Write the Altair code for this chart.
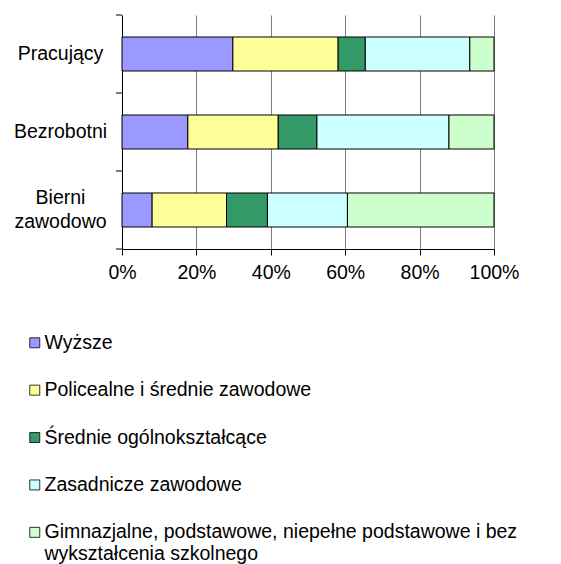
import altair as alt
import pandas as pd

groups = ["Pracujący", "Bezrobotni", "Bierni zawodowo"]
levels = [
    "Wyższe",
    "Policealne i średnie zawodowe",
    "Średnie ogólnokształcące",
    "Zasadnicze zawodowe",
    "Gimnazjalne, podstawowe, niepełne podstawowe i bez wykształcenia szkolnego",
]
colors = ["#9999FF", "#FFFF99", "#339966", "#CCFFFF", "#CCFFCC"]

wyzsze = [29.8, 17.7, 8.1]
policealne = [28.3, 24.3, 20.0]
srednie = [7.3, 10.4, 11.0]
zasadnicze = [28.1, 35.5, 21.5]
gimnazjalne = [6.5, 12.1, 39.4]

x_ticks = [0, 0.2, 0.4, 0.6, 0.8, 1.0]
band_edges = [0, 1, 2, 3]

series = [wyzsze, policealne, srednie, zasadnicze, gimnazjalne]
rows = []
for li, (lvl, vals) in enumerate(zip(levels, series)):
    for g, v in zip(groups, vals):
        rows.append({"grupa": g, "poziom": lvl, "v": v, "o": li})
df = pd.DataFrame(rows)
edges = pd.DataFrame({"b": band_edges})

FONT = "Liberation Sans"
FS = 19.5

last = levels[-1]
legend_expr = (
    f"datum.label == '{last}' ? ['Gimnazjalne, podstawowe, niepełne podstawowe i bez', "
    "'wykształcenia szkolnego'] : datum.label"
)

bars = alt.Chart(df).mark_bar(stroke="black", strokeWidth=1).encode(
    y=alt.Y(
        "grupa:N",
        sort=groups,
        title=None,
        scale=alt.Scale(paddingInner=0.564, paddingOuter=0.282),
        axis=alt.Axis(
            ticks=False,
            domain=True,
            domainColor="black",
            domainWidth=1,
            labelFont=FONT,
            labelFontSize=FS,
            labelColor="black",
            labelAlign="center",
            labelPadding=62,
            labelLineHeight=24,
            labelLimit=300,
            labelOffset={
                "condition": {"test": "datum.value == 'Bierni zawodowo'", "value": -12},
                "value": 0,
            },
            labelExpr="datum.value == 'Bierni zawodowo' ? ['Bierni', 'zawodowo'] : datum.label",
        ),
    ),
    x=alt.X(
        "v:Q",
        stack="normalize",
        title=None,
        scale=alt.Scale(domain=[0, 1], nice=False),
        axis=alt.Axis(
            values=x_ticks,
            format=".0%",
            grid=True,
            gridColor="#808080",
            gridWidth=1,
            domainColor="black",
            tickColor="black",
            tickSize=6,
            labelFont=FONT,
            labelFontSize=FS,
            labelColor="black",
            labelPadding=8,
            labelFlush=False,
        ),
    ),
    color=alt.Color(
        "poziom:N",
        sort=levels,
        scale=alt.Scale(domain=levels, range=colors),
        legend=alt.Legend(
            title=None,
            orient="none",
            legendX=-97,
            legendY=318,
            direction="vertical",
            symbolType="square",
            symbolSize=100,
            symbolStrokeColor="black",
            symbolStrokeWidth=0.8,
            labelFont=FONT,
            labelFontSize=FS,
            labelColor="black",
            labelOffset=0,
            labelLimit=600,
            rowPadding=26.4,
            padding=0,
            labelExpr=legend_expr,
        ),
    ),
    order=alt.Order("o:Q"),
)

yticks = alt.Chart(edges).mark_rule(color="black", strokeWidth=1).encode(
    y=alt.Y("b:Q", scale=alt.Scale(domain=[0, 3]), axis=None),
    x=alt.value(-6),
    x2=alt.value(0),
)

chart = (
    alt.layer(bars, yticks)
    .resolve_scale(y="independent")
    .properties(
        width=372,
        height=234,
        autosize=alt.AutoSizeParams(type="none"),
        padding={"left": 114, "top": 7, "right": 59, "bottom": 315},
    )
    .configure_view(stroke=None)
)

chart.save("out.html", embed_options={"renderer": "svg", "actions": False})
